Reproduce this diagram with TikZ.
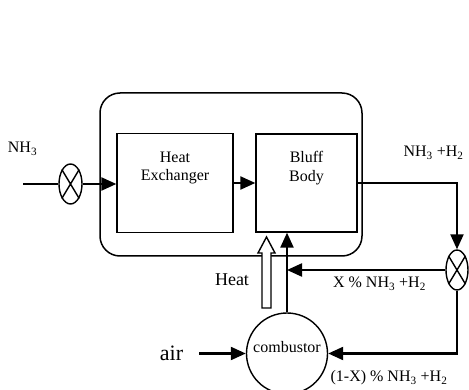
\documentclass[tikz,border=0pt]{standalone}
\usepackage{fontspec}
\setmainfont{Liberation Serif}
\usetikzlibrary{arrows.meta,shapes.geometric}
\begin{document}
\begin{tikzpicture}[x=1pt,y=-1pt,
  box/.style={draw,line width=1.3pt,inner sep=0pt},
  valve/.style={draw,ellipse,line width=1.4pt,inner sep=0pt,minimum width=23pt,minimum height=40pt},
  cross/.style={line width=1.4pt},
  flow/.style={line width=2.2pt},
  flowarrow/.style={flow,-{Triangle[length=15pt,width=13pt]}},
  lbl/.style={font=\fontsize{16}{18.5}\selectfont,inner sep=0pt,align=center}]
\useasboundingbox (0,0) rectangle (469,390);
% outer reactor enclosure
\node[box,line width=1.5pt,rounded corners=20pt,minimum width=262pt,minimum height=163pt] (outer) at (231,174.5) {};
% inner units
\node[box,minimum width=116pt,minimum height=99pt] (hx) at (175,183) {};
\node[lbl] (hxt) at (175,168) {Heat\\Exchanger};
\node[box,minimum width=101pt,minimum height=98pt] (bb) at (306.5,183) {};
\node[lbl] (bbt) at (306.5,168) {Bluff\\Body};
% valves
\node[valve] (lv) at (70.5,184) {};
\draw[cross] (lv.121) -- (lv.301) (lv.59) -- (lv.239);
\node[valve,minimum width=22pt] (rv) at (457,270) {};
\draw[cross] (rv.121) -- (rv.301) (rv.59) -- (rv.239);
% combustor
\node[draw,circle,line width=1.4pt,minimum size=81pt,inner sep=0pt] (comb) at (287,353.5) {};
\node[lbl] (combt) at (287,347.5) {combustor};
% connectors
\coordinate (in) at (23,184);
\draw[flow] (in) -- (lv.west);
\draw[flowarrow] (lv.east) -- (lv.east -| hx.west);
\draw[flowarrow] (hx.east) -- (bb.west);
\draw[flowarrow] (bb.east) -| (rv.north);
\coordinate (j) at (comb.north |- rv.west);
\draw[flowarrow] (rv.west) -- (j);
\draw[flowarrow] (comb.north) -- (comb.north |- bb.south);
\draw[flowarrow] (rv.south) |- (comb.east);
\coordinate (airin) at (199,353.5);
\draw[flowarrow] (airin) -- (comb.west);
% hollow heat arrow
\draw[line width=1.4pt,fill=white] (262,308) -- (262,253) -- (258,253) -- (266.5,237) -- (275,253) -- (271,253) -- (271,308) -- cycle;
% labels
\node[lbl] (nh3) at (22.5,149) {NH\textsubscript{3}};
\node[lbl] (outl) at (433.5,153) {NH\textsubscript{3} +H\textsubscript{2}};
\node[lbl] (xl) at (379.5,284) {X \% NH\textsubscript{3} +H\textsubscript{2}};
\node[lbl] (yl) at (389,378) {(1-X) \% NH\textsubscript{3} +H\textsubscript{2}};
\node[lbl,font=\fontsize{18}{20}\selectfont] (heat) at (232,280) {Heat};
\node[lbl,font=\fontsize{22}{24}\selectfont] (air) at (171.5,353) {air};
\end{tikzpicture}
\end{document}
